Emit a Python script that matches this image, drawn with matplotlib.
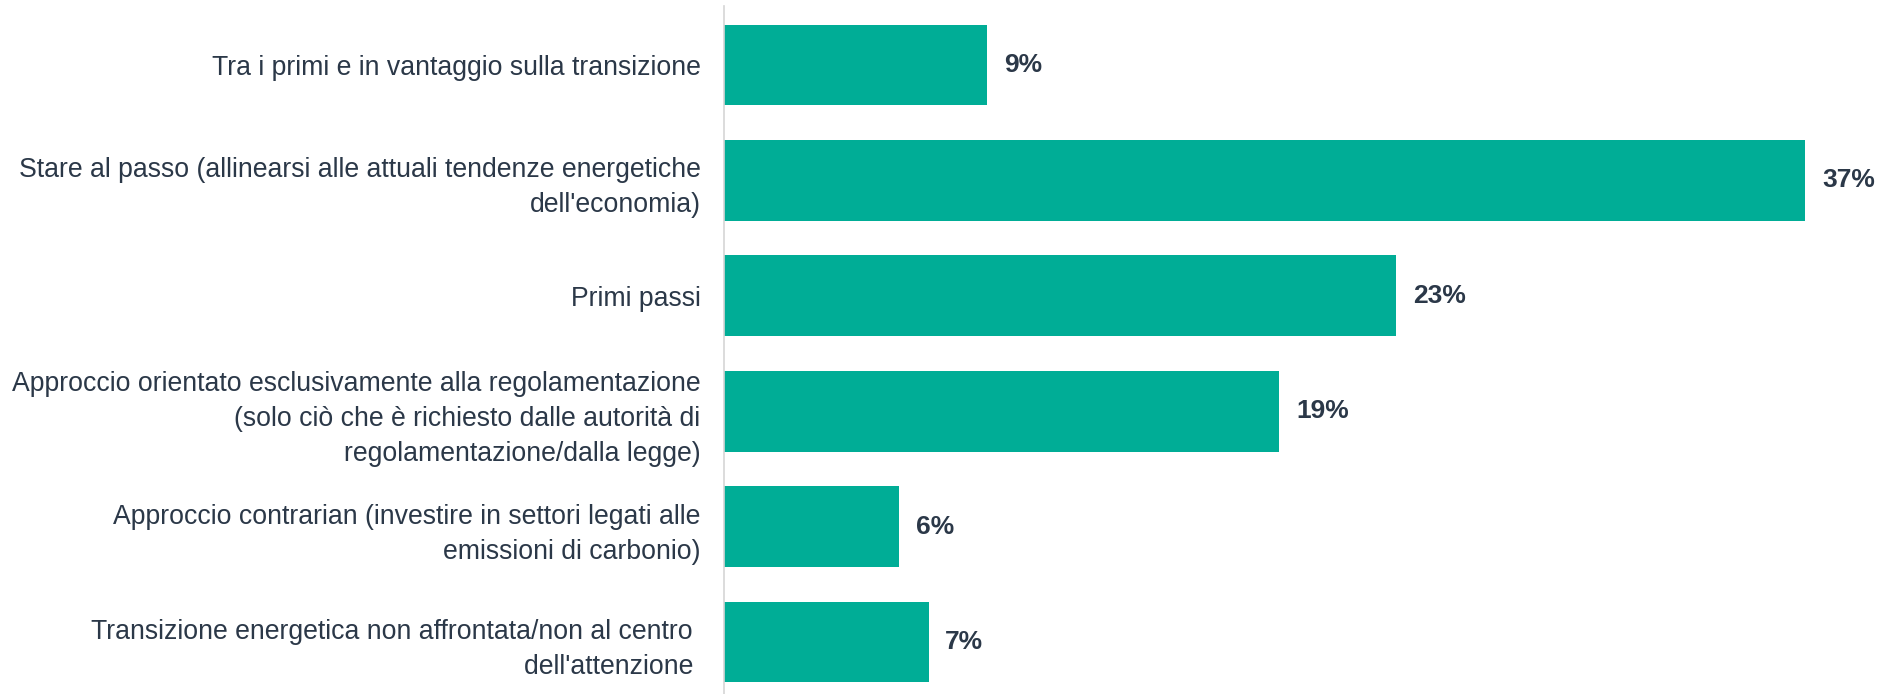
import matplotlib.pyplot as plt

plt.rcParams['font.family'] = ['Liberation Sans', 'DejaVu Sans']

categories = [
    "Tra i primi e in vantaggio sulla transizione",
    "Stare al passo (allinearsi alle attuali tendenze energetiche\ndell'economia)",
    "Primi passi",
    "Approccio orientato esclusivamente alla regolamentazione\n(solo ciò che è richiesto dalle autorità di\nregolamentazione/dalla legge)",
    "Approccio contrarian (investire in settori legati alle\nemissioni di carbonio)",
    "Transizione energetica non affrontata/non al centro \ndell'attenzione ",
]
values = [9, 37, 23, 19, 6, 7]

bar_color = "#00ad96"
text_color = "#2b3848"

fig = plt.figure(figsize=(18.93, 6.94), dpi=100)
ax = fig.add_axes([0.3825, 0.0, 0.6175, 0.991])

pos = list(range(len(values)))
ax.barh(pos, values, height=0.70, color=bar_color)

for y, v in zip(pos, values):
    ax.annotate(f"{v}%", xy=(v, y), xytext=(12, 0), textcoords="offset points",
                ha="left", va="center", fontsize=19, fontweight="bold",
                color=text_color)

ax.set_xlim(0, 40)
ax.set_ylim(5.45, -0.51)
ax.set_yticks(pos)
ax.set_yticklabels(categories, fontsize=19.2, color=text_color, linespacing=1.45)
ax.tick_params(axis="y", length=0, pad=17)
ax.set_xticks([])

for side in ["top", "right", "bottom"]:
    ax.spines[side].set_visible(False)
ax.spines["left"].set_color("#d5d5d5")
ax.spines["left"].set_linewidth(1.2)

fig.savefig("out.png", dpi=100)
